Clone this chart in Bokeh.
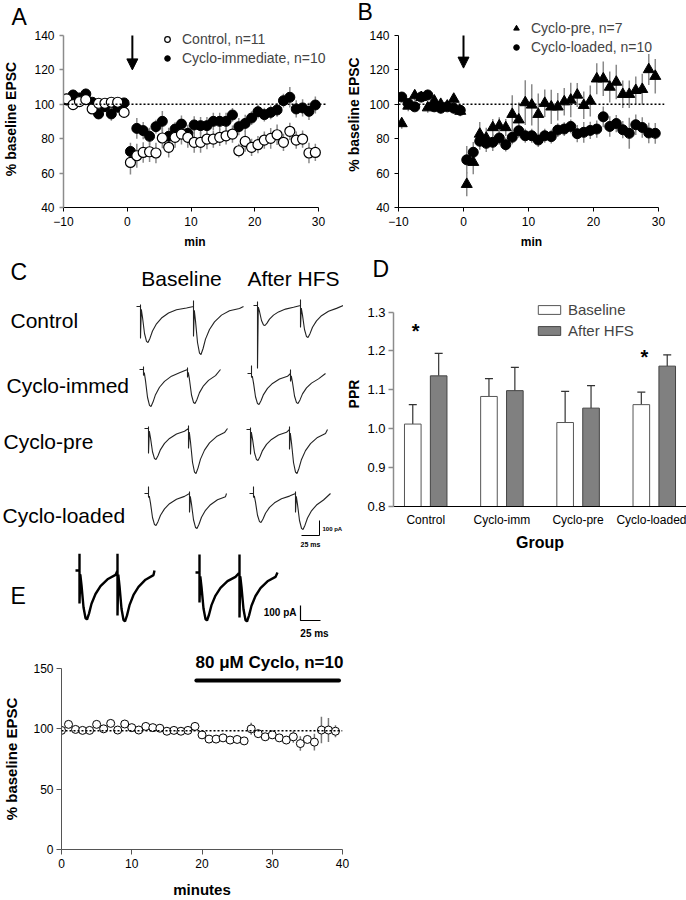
from bokeh.plotting import figure
from bokeh.models import (Range1d, FactorRange, ColumnDataSource, Label, Arrow,
                          NormalHead, Legend, LegendItem, FixedTicker, Span,
                          PrintfTickFormatter)
from bokeh.layouts import column, row
from bokeh.transform import dodge
from bokeh.embed import file_html
from bokeh.resources import INLINE
from bokeh.core.properties import value

FONT = "Liberation Sans"

# ---------------------------------------------------------------- data
# Panels A and B: time (min) and % baseline EPSC (mean, SEM)
time_ab = [t + 0.5 for t in range(-10, 30)]

ctrl = [103.1, 99.8, 101.6, 102.7, 97.3, 100.6, 100.6, 101.2, 101.2, 95.3,
        66.2, 70.1, 72.0, 72.4, 71.7, 80.4, 75.0, 80.8, 82.7, 80.8,
        77.9, 77.9, 79.8, 79.8, 80.8, 81.7, 82.7, 73.0, 78.4, 75.0,
        76.5, 79.2, 80.2, 82.3, 77.9, 84.3, 79.2, 79.8, 71.7, 72.0]
ctrl_err = [3, 3, 2, 3, 3, 2, 2, 2, 2, 3,
            7, 7, 6, 6, 6, 6, 6, 6, 6, 6,
            6, 6, 6, 5, 5, 5, 5, 4, 6, 5,
            5, 5, 6, 6, 5, 5, 5, 5, 6, 5]
immed = [102.5, 105.4, 103.7, 106.0, 101.2, 94.4, 98.6, 94.4, 98.3, 100.8,
         72.6, 86.0, 84.7, 81.4, 87.0, 90.1, 81.4, 85.6, 88.5, 83.1,
         88.0, 87.6, 87.6, 90.1, 90.1, 90.1, 93.8, 87.0, 88.9, 92.0,
         95.7, 94.0, 95.3, 96.7, 102.1, 104.1, 97.3, 97.9, 95.9, 99.6]
immed_err = [3, 3, 2, 3, 2, 3, 3, 4, 3, 2,
             5, 6, 5, 5, 4, 6, 5, 4, 5, 5,
             5, 5, 5, 5, 5, 5, 4, 5, 5, 4,
             4, 4, 4, 4, 4, 6, 5, 5, 5, 5]

pre = [88.8, 99.0, 105.0, 104.0, 98.0, 102.0, 100.0, 99.0, 103.0, 96.0,
       53.5, 66.3, 82.7, 80.4, 86.5, 87.5, 86.5, 94.2, 91.0, 101.0,
       99.6, 94.2, 100.6, 98.5, 98.5, 101.5, 102.5, 105.4, 99.4, 101.9,
       114.8, 114.8, 110.0, 112.9, 105.8, 105.8, 108.1, 108.7, 120.2, 116.3]
pre_err = [3, 3, 3, 3, 3, 3, 3, 2, 3, 3,
           7, 7, 7, 6, 5, 5, 5, 11, 10, 13,
           12, 12, 8, 10, 8, 8, 10, 7, 8, 9,
           9, 10, 9, 10, 8, 8, 8, 9, 9, 10]
loaded = [104.2, 100.4, 98.5, 104.2, 105.4, 98.5, 97.7, 98.5, 97.7, 96.5,
          67.7, 72.1, 78.5, 77.3, 77.9, 80.4, 76.5, 80.8, 84.6, 81.7,
          81.7, 79.2, 81.7, 81.2, 85.0, 85.6, 87.1, 82.9, 83.7, 84.8,
          85.6, 92.7, 87.1, 88.8, 85.2, 83.1, 88.1, 86.5, 83.3, 83.1]
loaded_err = [2, 3, 2, 2, 3, 3, 3, 2, 3, 3,
              8, 6, 5, 5, 5, 4, 4, 4, 4, 4,
              4, 4, 4, 4, 4, 4, 4, 5, 6, 5,
              5, 6, 6, 5, 5, 9, 6, 6, 6, 6]
HFS_A = 0.8          # tetanus time marked by the arrow (min)
HFS_B = 0.0
BASELINE_LEVEL = 100

# Panel C: EPSC amplitudes of the example sweeps (plot px)
c_rows = ["Control", "Cyclo-immed", "Cyclo-pre", "Cyclo-loaded"]
c_base_amp1 = [36, 37, 31, 32]
c_base_amp2 = [48, 34, 45, 35]
c_hfs_amp1 = [20, 31, 31, 29]
c_hfs_amp2 = [32, 30, 44, 36]

# Panel D: paired-pulse ratio
groups = ["Control", "Cyclo-imm", "Cyclo-pre", "Cyclo-loaded"]
ppr_base = [1.012, 1.083, 1.016, 1.062]
ppr_base_err = [0.050, 0.046, 0.080, 0.032]
ppr_hfs = [1.136, 1.098, 1.053, 1.161]
ppr_hfs_err = [0.058, 0.060, 0.058, 0.029]
star_groups = ["Control", "Cyclo-loaded"]
star_y = [1.262, 1.196]

# Panel E: example sweeps and time course
e_tr_amp1 = [49, 48]
e_tr_amp2 = [51, 49]
e_time = list(range(40))
e_vals = [98.7, 103.7, 99.5, 98.7, 98.7, 103.7, 100.0, 104.5, 99.0, 104.0,
          101.0, 99.0, 102.0, 101.0, 100.5, 98.0, 98.7, 98.0, 98.7, 102.0,
          95.0, 91.5, 91.5, 92.5, 90.7, 91.2, 90.0, 100.0, 96.0, 93.4,
          95.0, 92.5, 90.7, 93.4, 87.8, 91.2, 89.0, 99.0, 99.0, 98.0]
e_err = [1, 1, 1, 1, 1, 1, 1, 1, 1, 1,
         1, 1, 1, 1, 1, 1, 1, 1, 1, 1,
         2, 2, 2, 2, 2, 2, 2, 5, 2, 3,
         3, 3, 3, 5, 6, 3, 7, 11, 10, 5]
E_REF_LEVEL = 98.5
drug_start, drug_end, drug_level = 19.2, 39.5, 140


# ---------------------------------------------------------------- helpers
def axes_fig(rx0, rx1, ry0, ry1, frame, xr, yr):
    fx0, fy0, fx1, fy1 = frame
    p = figure(width=rx1 - rx0, height=ry1 - ry0, x_range=xr, y_range=yr,
               output_backend="svg", toolbar_location=None,
               min_border_left=fx0 - rx0, min_border_right=rx1 - fx1,
               min_border_top=fy0 - ry0, min_border_bottom=ry1 - fy1)
    p.outline_line_color = None
    p.xgrid.grid_line_color = None
    p.ygrid.grid_line_color = None
    p.background_fill_color = "white"
    p.border_fill_color = "white"
    return p


def blank_fig(rx0, rx1, ry0, ry1):
    p = figure(width=rx1 - rx0, height=ry1 - ry0, x_range=Range1d(rx0, rx1),
               y_range=Range1d(ry1, ry0), output_backend="svg",
               toolbar_location=None, x_axis_type=None, y_axis_type=None,
               min_border_left=0, min_border_right=0, min_border_top=0,
               min_border_bottom=0)
    p.outline_line_color = None
    p.grid.grid_line_color = None
    p.background_fill_color = "white"
    p.border_fill_color = "white"
    return p


def ext(lo, hi, plo, phi, pnew):
    """value at pixel pnew on an axis mapping plo->lo and phi->hi"""
    return lo + (pnew - plo) / (phi - plo) * (hi - lo)


def style_axis(ax, tick_size, label_size, color="black", lw=1, tick_out=4,
               label_standoff=5, axis_label_standoff=8):
    ax.major_label_text_font = FONT
    ax.major_label_text_font_size = f"{tick_size}px"
    ax.major_label_text_color = "black"
    ax.axis_label_text_font = FONT
    ax.axis_label_text_font_size = f"{label_size}px"
    ax.axis_label_text_font_style = "bold"
    ax.axis_label_text_color = "black"
    ax.axis_line_color = color
    ax.axis_line_width = lw
    ax.major_tick_line_color = color
    ax.major_tick_line_width = lw
    ax.major_tick_in = 0
    ax.major_tick_out = tick_out
    ax.minor_tick_line_color = None
    ax.major_label_standoff = label_standoff
    ax.axis_label_standoff = axis_label_standoff


def set_title(p, text, size, offset, standoff, bold=False):
    p.title.text = text
    p.title.align = "left"
    p.title.offset = offset
    p.title.standoff = standoff
    p.title.text_font = FONT
    p.title.text_font_size = f"{size}px"
    p.title.text_font_style = "bold" if bold else "normal"
    p.title.text_color = "black"


def add_label(p, x, y, text, size, bold=False, align="left", baseline="alphabetic"):
    p.add_layout(Label(x=x, y=y, text=text, text_font=FONT,
                       text_font_size=f"{size}px",
                       text_font_style="bold" if bold else "normal",
                       text_align=align, text_baseline=baseline,
                       text_color="black"))


def make_legend(p, items, frame, left_ref, bottom_ref, glyph_w, glyph_h,
                label_h, spacing, standoff, size):
    fx0, fy0, fx1, fy1 = frame
    leg = Legend(items=items, location=(left_ref - fx0, fy1 - bottom_ref),
                 border_line_color=None, background_fill_alpha=0,
                 padding=0, margin=0, glyph_width=glyph_w, glyph_height=glyph_h,
                 label_height=label_h, spacing=spacing, label_standoff=standoff,
                 label_text_font=FONT, label_text_font_size=f"{size}px")
    p.add_layout(leg)


def time_course(p, t, vals, errs, err_color="#8a8a8a"):
    lo = [v - e for v, e in zip(vals, errs)]
    hi = [v + e for v, e in zip(vals, errs)]
    p.segment(x0=t, y0=lo, x1=t, y1=hi, line_color=err_color, line_width=1.5)


# EPSC waveform shape: (time after stimulus, fraction of peak)
TPL_DT = [0.8, 2, 4, 6, 7.5, 9.5, 12, 16, 21, 28, 36, 46, 60]
TPL_F = [0.08, 0.3, 0.75, 0.97, 1.0, 0.88, 0.68, 0.48, 0.32, 0.18, 0.09, 0.04, 0.0]


def sweep(x0, base, gap, tail, a1, a2, art1, art2):
    xs, ys = [x0 - 4], [base]
    for t, a, art, lim in ((x0, a1, art1, gap), (x0 + gap, a2, art2, tail)):
        xs += [t, t, t]
        ys += [base, base - art[0], base + art[1]]
        for dt, f in zip(TPL_DT, TPL_F):
            if dt < lim:
                xs.append(t + dt)
                ys.append(base + f * a)
        xs.append(t + lim)
        ys.append(base)
    return xs, ys


# ---------------------------------------------------------------- panel A
# axis frame: x -10..30 at px 62..318, y 40..140 at px 207..35
FA = (62, 30, 326, 207)
pA = axes_fig(0, 343, 0, 252, FA,
              Range1d(-10, ext(-10, 30, 62, 318, FA[2])),
              Range1d(40, ext(40, 140, 207, 35, FA[1])))
style_axis(pA.yaxis[0], 12, 14, color="#8c8c8c", lw=1.5, axis_label_standoff=12)
style_axis(pA.xaxis[0], 12, 12, color="black", lw=1, axis_label_standoff=6)
pA.xaxis.ticker = FixedTicker(ticks=[-10, 0, 10, 20, 30])
pA.yaxis.ticker = FixedTicker(ticks=[40, 60, 80, 100, 120, 140])
pA.xaxis.bounds = (-10, 30)
pA.yaxis.bounds = (40, 140)
pA.xaxis.axis_label = "min"
pA.yaxis.axis_label = "% baseline EPSC"
pA.add_layout(Span(location=BASELINE_LEVEL, dimension="width", line_dash="2 2",
                   line_color="black", line_width=1.5))
time_course(pA, time_ab, immed, immed_err)
time_course(pA, time_ab, ctrl, ctrl_err)
r_imm = pA.scatter(time_ab, immed, marker="circle", size=10, fill_color="black",
                   line_color="black")
r_ctrl = pA.scatter(time_ab, ctrl, marker="circle", size=10, fill_color="white",
                    line_color="black", line_width=1.2)
pA.add_layout(Arrow(end=NormalHead(size=11, fill_color="black", line_color="black"),
                    x_start=HFS_A, y_start=140, x_end=HFS_A, y_end=120,
                    line_width=2, line_color="black"))
make_legend(pA, [LegendItem(label="Control, n=11", renderers=[r_ctrl]),
                 LegendItem(label="Cyclo-immediate, n=10", renderers=[r_imm])],
            FA, 159, 66, 14, 14, 14, 3, 8, 14)
set_title(pA, "A", 23, 10 - FA[0], 2)

# ---------------------------------------------------------------- panel B
FB = (397, 20, 664, 207)
pB = axes_fig(343, 686, 0, 252, FB,
              Range1d(-10, ext(-10, 30, 397, 658, FB[2])),
              Range1d(40, ext(40, 140, 207, 34, FB[1])))
style_axis(pB.yaxis[0], 12, 14, color="black", lw=1, axis_label_standoff=4)
style_axis(pB.xaxis[0], 12, 12, color="black", lw=1, axis_label_standoff=6)
pB.xaxis.ticker = FixedTicker(ticks=[-10, 0, 10, 20, 30])
pB.yaxis.ticker = FixedTicker(ticks=[40, 60, 80, 100, 120, 140])
pB.xaxis.bounds = (-10, 30)
pB.yaxis.bounds = (40, 140)
pB.xaxis.axis_label = "min"
pB.yaxis.axis_label = "% baseline EPSC"
pB.add_layout(Span(location=BASELINE_LEVEL, dimension="width", line_dash="2 2",
                   line_color="black", line_width=1.5))
time_course(pB, time_ab, loaded, loaded_err)
time_course(pB, time_ab, pre, pre_err)
r_load = pB.scatter(time_ab, loaded, marker="circle", size=10, fill_color="black",
                    line_color="black")
r_pre = pB.scatter(time_ab, pre, marker="triangle", size=11, fill_color="black",
                   line_color="black")
pB.add_layout(Arrow(end=NormalHead(size=11, fill_color="black", line_color="black"),
                    x_start=HFS_B, y_start=140, x_end=HFS_B, y_end=121,
                    line_width=2, line_color="black"))
make_legend(pB, [LegendItem(label="Cyclo-pre, n=7", renderers=[r_pre]),
                 LegendItem(label="Cyclo-loaded, n=10", renderers=[r_load])],
            FB, 508, 55, 14, 16, 16, 3, 8, 14)
set_title(pB, "B", 23, 356 - FB[0], -7)

# ---------------------------------------------------------------- panel C
pC = blank_fig(0, 343, 252, 553)
# sweep layout: (stim x, baseline y, inter-stimulus gap, tail, artefacts)
c_base_layout = [(140, 306, 53, 50, (2, 32), (6, 30)),
                 (143, 369, 44, 33, (3, 6), (2, 8)),
                 (148, 428, 40, 39, (2, 25), (3, 20)),
                 (148, 493, 41, 37, (7, 4), (2, 19))]
c_hfs_layout = [(257, 305, 43, 43, (4, 63), (6, 22)),
                (251, 373, 39, 35, (8, 4), (4, 8)),
                (250, 429, 39, 38, (2, 25), (3, 20)),
                (253, 493, 42, 35, (7, 4), (2, 19))]
c_label_pos = [(10, 320), (6, 385), (3, 441), (2, 515)]
for i, name in enumerate(c_rows):
    x0, b, g, tl, ar1, ar2 = c_base_layout[i]
    xs, ys = sweep(x0, b, g, tl, c_base_amp1[i], c_base_amp2[i], ar1, ar2)
    pC.line(xs, ys, line_color="#222222", line_width=1.1)
    x0, b, g, tl, ar1, ar2 = c_hfs_layout[i]
    xs, ys = sweep(x0, b, g, tl, c_hfs_amp1[i], c_hfs_amp2[i], ar1, ar2)
    pC.line(xs, ys, line_color="#222222", line_width=1.1)
    add_label(pC, c_label_pos[i][0], c_label_pos[i][1], name, 21)
add_label(pC, 10, 271, "C", 23)
add_label(pC, 181, 278, "Baseline", 21, align="center")
add_label(pC, 293, 278, "After HFS", 21, align="center")
# scale bar: 100 pA / 25 ms
pC.line([319, 319, 301], [520, 535, 535], line_color="black", line_width=1)
add_label(pC, 322, 528, "100 pA", 6, bold=True, baseline="middle")
add_label(pC, 310, 544, "25 ms", 7, bold=True, align="center", baseline="middle")

# ---------------------------------------------------------------- panel D
# axis frame: y 0.8..1.3 at px 509..312 (frame extended upward, axis bounded)
FD = (386, 281, 686, 509)
xrD = FactorRange(factors=groups, range_padding=-0.077, range_padding_units="absolute")
pD = axes_fig(343, 686, 252, 553, FD, xrD,
              Range1d(0.8, ext(0.8, 1.3, 509, 312, FD[1])))
style_axis(pD.yaxis[0], 13, 14, color="#8c8c8c", lw=1.5, tick_out=5,
           label_standoff=3, axis_label_standoff=2)
style_axis(pD.xaxis[0], 12, 16, color="black", lw=1, tick_out=0,
           label_standoff=6, axis_label_standoff=4)
pD.xaxis.major_tick_line_color = None
pD.yaxis.ticker = FixedTicker(ticks=[0.8, 0.9, 1.0, 1.1, 1.2, 1.3])
pD.yaxis.formatter = PrintfTickFormatter(format="%.1f")
pD.yaxis.bounds = (0.8, 1.3)
pD.yaxis.axis_label = "PPR"
pD.xaxis.axis_label = "Group"
srcD = ColumnDataSource(dict(
    group=groups, base=ppr_base, hfs=ppr_hfs,
    base_hi=[v + e for v, e in zip(ppr_base, ppr_base_err)],
    hfs_hi=[v + e for v, e in zip(ppr_hfs, ppr_hfs_err)]))
OFF = 0.17
BW = 0.218
for col, hi, off in (("base", "base_hi", -OFF), ("hfs", "hfs_hi", OFF)):
    xx = dodge("group", off, range=xrD)
    pD.segment(x0=xx, y0=col, x1=xx, y1=hi, source=srcD, line_color="#333333",
               line_width=1.2)
    pD.scatter(x=xx, y=hi, marker="dash", size=8, line_color="#333333",
               line_width=1.2, source=srcD)
r_base = pD.vbar(x=dodge("group", -OFF, range=xrD), top="base", bottom=0, width=BW,
                 fill_color="white", line_color="#555555", line_width=1, source=srcD)
r_hfs = pD.vbar(x=dodge("group", OFF, range=xrD), top="hfs", bottom=0, width=BW,
                fill_color="#808080", line_color="#444444", line_width=1, source=srcD)
pD.text(x="g", y="y", text=value("*"),
        source=ColumnDataSource(dict(g=star_groups, y=star_y)),
        x_offset=-10, y_offset=4, text_font=value(FONT), text_font_size="20px",
        text_font_style="bold", text_align="center", text_baseline="middle",
        text_color="black")
make_legend(pD, [LegendItem(label="Baseline", renderers=[r_base]),
                 LegendItem(label="After HFS", renderers=[r_hfs])],
            FD, 528, 342, 28, 11, 18, 3, 5, 15)
set_title(pD, "D", 23, 368 - FD[0] - 3, 0)

# ---------------------------------------------------------------- panel E sweeps
pEt = blank_fig(0, 343, 553, 640)
e_tr_layout = [(79, 570, 38, 37, (17, 33), (17, 45)),
               (199, 572, 40, 38, (18, 30), (18, 45))]
for i in range(2):
    x0, b, g, tl, ar1, ar2 = e_tr_layout[i]
    xs, ys = sweep(x0, b, g, tl, e_tr_amp1[i], e_tr_amp2[i], ar1, ar2)
    pEt.line(xs, ys, line_color="black", line_width=2.4)
pEt.line([300, 300, 320], [605, 620, 620], line_color="black", line_width=1.2)
add_label(pEt, 296, 612, "100 pA", 10, bold=True, align="right", baseline="middle")
add_label(pEt, 314, 633, "25 ms", 10, bold=True, align="center", baseline="middle")
add_label(pEt, 10, 595, "E", 23)

# ---------------------------------------------------------------- panel E time course
FE = (56, 668, 342, 856)
pE = axes_fig(0, 360, 640, 900, FE, Range1d(0, 40), Range1d(0, 150))
style_axis(pE.yaxis[0], 12, 15, color="#555555", lw=1, tick_out=5,
           label_standoff=3, axis_label_standoff=10)
style_axis(pE.xaxis[0], 12, 15, color="#555555", lw=1, tick_out=5,
           label_standoff=4, axis_label_standoff=10)
pE.xaxis.ticker = FixedTicker(ticks=[0, 10, 20, 30, 40])
pE.yaxis.ticker = FixedTicker(ticks=[0, 50, 100, 150])
pE.xaxis.axis_label = "minutes"
pE.yaxis.axis_label = "% baseline EPSC"
pE.add_layout(Span(location=E_REF_LEVEL, dimension="width", line_dash="2 2",
                   line_color="black", line_width=1.5))
time_course(pE, e_time, e_vals, e_err, err_color="#777777")
pE.scatter(e_time, e_vals, marker="circle", size=8, fill_color="white",
           line_color="black", line_width=1)
pE.segment(x0=[drug_start], y0=[drug_level], x1=[drug_end], y1=[drug_level],
           line_color="black", line_width=4, line_cap="round")
set_title(pE, "80 \u03bcM Cyclo, n=10", 17, 190 - FE[0], -6, bold=True)

layout = column(row(column(pA), column(pB)),
                row(column(pC), column(pD)),
                column(pEt), column(pE))
open("out.html", "w").write(file_html(layout, INLINE))
